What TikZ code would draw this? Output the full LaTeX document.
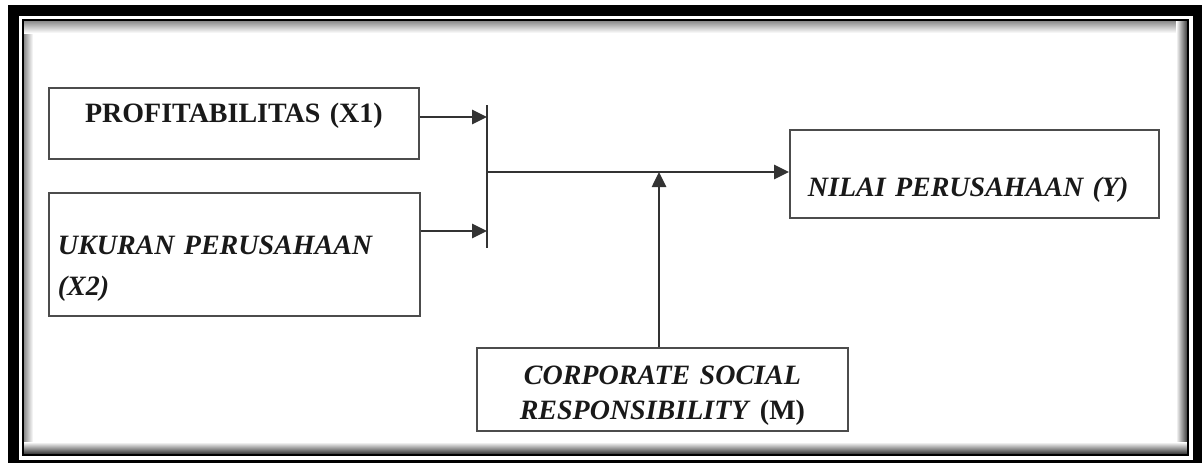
\documentclass[tikz,border=0pt]{standalone}
\usepackage{fontspec}
\setmainfont{Liberation Serif}
\usetikzlibrary{arrows.meta}
\tikzset{
  boxn/.style={draw=black!70, line width=1.8pt, fill=white, inner ysep=0pt,
    font=\bfseries\fontsize{28}{34}\selectfont, text=black!90, anchor=north west},
  arr/.style={draw=black!80, line width=2.6pt, -{Triangle[length=15pt,width=14pt]}},
  ln/.style={draw=black!80, line width=2.4pt},
}
\begin{document}
\begin{tikzpicture}[x=1pt,y=-1pt]
\useasboundingbox (0,0) rectangle (1202,463);
% frame
\fill[black] (8,5) rectangle (1202,463);
\fill[white] (19,16) rectangle (1193,460);
\shade[left color=black!45, right color=white] (24,21) rectangle (33,454);
\shade[top color=black!45, bottom color=white] (24,21) rectangle (1187,33);
\shade[left color=white, right color=black!75] (1176,21) rectangle (1187,454);
\shade[top color=white, bottom color=black!80] (24,442) rectangle (1187,454);
\draw[black, line width=2pt] (23,20) rectangle (1188,455);
% nodes
\node[boxn, inner xsep=10pt, text width=350pt, align=center, text height=35pt, text depth=36pt]
  (p1) at (48,87) {PROFITABILITAS (X1)};
\node[boxn, inner xsep=9pt, text width=353pt, align=left, text height=62pt, text depth=61pt,
  font=\bfseries\itshape\fontsize{28}{41}\selectfont]
  (p2) at (48,192) {UKURAN PERUSAHAAN\\(X2)};
\node[boxn, inner xsep=18pt, text width=333pt, align=left, text height=67pt, text depth=21pt,
  font=\bfseries\itshape\fontsize{28}{34}\selectfont]
  (y) at (789,129) {NILAI PERUSAHAAN (Y)};
\node[boxn, inner xsep=10pt, text width=351pt, align=center, text height=37pt, text depth=46pt,
  font=\bfseries\fontsize{28}{35}\selectfont]
  (c) at (476,347) {\textit{CORPORATE SOCIAL}\\\textit{RESPONSIBILITY} (M)};
% connectors
\coordinate (a1) at (487,117);
\coordinate (a2) at (487,231);
\coordinate (bt) at (487,105);
\coordinate (bb) at (487,248);
\coordinate (m) at (487,172);
\coordinate (cm) at (659,172);
\draw[ln] (bt) -- (bb);
\draw[arr] (p1.east |- a1) -- (a1);
\draw[arr] (p2.east |- a2) -- (a2);
\draw[arr] (m) -- (y.west |- m);
\draw[arr] (c.north -| cm) -- (cm);
\end{tikzpicture}
\end{document}
